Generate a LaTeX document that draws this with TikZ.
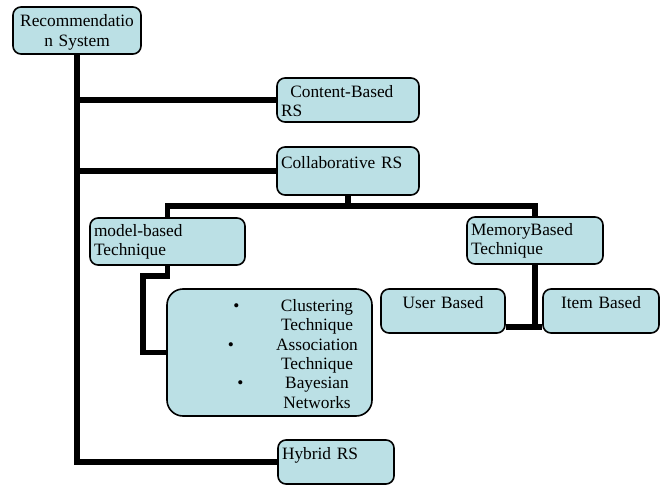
\documentclass[tikz,border=0pt]{standalone}
\usepackage{fontspec}
\setmainfont{Liberation Serif}
\usepackage{tikz}
\definecolor{boxfill}{RGB}{187,224,229}
\tikzstyle{box} = [draw, line width=1.2pt, fill=boxfill, rounded corners=6pt,
    inner xsep=3pt, inner ysep=0pt, align=left,
    font=\fontsize{13}{14.5}\selectfont]
\tikzstyle{toptext} = [text height=9pt, text depth=13pt]
\tikzstyle{link} = [draw, line width=4pt]
\newcommand{\bulletline}[2]{\hspace*{#1}\makebox[0pt]{\textbullet}%
    \hspace*{\dimexpr 109.5pt-#1\relax}\makebox[0pt]{#2}}
\newcommand{\textline}[1]{\hspace*{109.5pt}\makebox[0pt]{#1}}

\begin{document}
\begin{tikzpicture}[x=0.75pt, y=-0.75pt]
    \useasboundingbox (0,0) rectangle (667,485);

    % Root
    \node [box, align=center, text width=90pt, text height=12pt,
        minimum height=35.25pt] (root) at (77,30.5) {Recommendatio\\n System};

    % First level
    \node [box, text width=100.5pt, text height=10.5pt, minimum height=33pt]
        (content) at (348,100) {\hspace*{7pt}Content-Based\\RS};
    \node [box, toptext, text width=100.5pt, minimum height=36pt]
        (collab) at (348,171) {Collaborative RS};
    \node [box, toptext, text width=81pt, minimum height=33pt]
        (hybrid) at (336,462) {Hybrid RS};

    % Collaborative techniques
    \node [box, text width=110.25pt, minimum height=35.25pt]
        (model) at (167.5,241.5) {model-based\\Technique};
    \node [box, text width=96pt, minimum height=35.25pt]
        (memory) at (535,240.5) {MemoryBased\\Technique};

    % Model-based methods
    \node [box, rounded corners=12pt, text width=147.75pt, text height=11pt,
        minimum height=95.25pt] (methods) at (269.5,352.5)
        {\bulletline{49pt}{Clustering}\\
        \textline{Technique}\\
        \bulletline{45pt}{Association}\\
        \textline{Technique}\\
        \bulletline{52pt}{Bayesian}\\
        \textline{Networks}};

    % Memory-based kinds
    \node [box, toptext, align=center, text width=87pt, minimum height=33pt]
        (user) at (443,311) {User Based};
    \node [box, toptext, align=center, text width=81pt, minimum height=33pt]
        (item) at (601,311) {Item Based};

    % Bend points
    \coordinate (bus) at (348,206);
    \coordinate (mbend) at (143,276);
    \coordinate (mjoin) at (535,327);

    % Trunk and branches
    \draw [link] (root.south) |- (hybrid.west);
    \draw [link] (root.south |- content.west) -- (content.west);
    \draw [link] (root.south |- collab.west) -- (collab.west);

    % Collaborative section
    \draw [link] (collab.south) -- (bus);
    \draw [link] (model.north) |- (bus) -| (memory.north);
    \draw [link] (model.south) |- (mbend) |- (methods.west);
    \draw [link] (memory.south) |- (user.east |- mjoin);
    \draw [link] (mjoin) -- (item.west |- mjoin);
\end{tikzpicture}
\end{document}
